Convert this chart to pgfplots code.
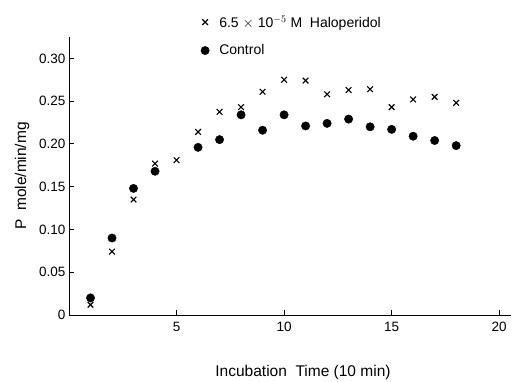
\documentclass[border=0pt]{standalone}
\usepackage{fontspec}
\setmainfont{Liberation Sans}
\usepackage{pgfplots}
\pgfplotsset{compat=1.18}
\begin{document}
\begin{tikzpicture}[x=1pt,y=1pt]
\useasboundingbox (-69,-67) rectangle (444,315);
\begin{axis}[
  at={(0,0)}, anchor=origin,
  scale only axis, width=442pt, height=278pt,
  xmin=0, xmax=20.55, ymin=0, ymax=0.325,
  axis lines*=left,
  axis line style={line width=0.9pt},
  tick align=inside,
  major tick length=5pt,
  tick style={line width=0.9pt, black},
  xtick={5,10,15,20}, xticklabels={5,10,15,20},
  ytick={0,0.05,0.10,0.15,0.20,0.25,0.30},
  yticklabels={0,0.05,0.10,0.15,0.20,0.25,0.30},
  ticklabel style={font=\fontsize{13.5}{15}\selectfont},
  xticklabel style={yshift=-4pt},
  xlabel={Incubation\ \ Time (10 min)},
  ylabel={P\ \ mole/min/mg},
  label style={font=\fontsize{15.5}{18}\selectfont},
  every axis x label/.append style={at={(234pt,-57pt)}, anchor=center},
  every axis y label/.append style={at={(-47pt,139pt)}, anchor=center},
  clip=false,
  legend style={draw=none, fill=none, at={(axis description cs:0.298,1.085)}, anchor=north west,
    font=\fontsize{14}{16}\selectfont, row sep=12pt, inner sep=0pt},
  legend cell align=left,
]
\addplot[only marks, mark=x, mark size=4pt, line width=1.1pt, black] coordinates {
(1,0.012) (2,0.074) (3,0.135) (4,0.177) (5,0.181) (6,0.214) (7,0.2375) (8,0.243)
(9,0.261) (10,0.275) (11,0.274) (12,0.258) (13,0.263) (14,0.264) (15,0.243)
(16,0.252) (17,0.255) (18,0.248)
};
\addlegendentry{\hspace{8pt}6.5 $\times$ 10$^{-5}$ M\ \ Haloperidol}
\addplot[only marks, mark=*, mark size=4.2pt, black] coordinates {
(1,0.020) (2,0.090) (3,0.148) (4,0.168) (6,0.196) (7,0.205) (8,0.234)
(9,0.216) (10,0.234) (11,0.221) (12,0.224) (13,0.229) (14,0.220) (15,0.217)
(16,0.209) (17,0.204) (18,0.198)
};
\addlegendentry{\hspace{8pt}Control}
\end{axis}
\end{tikzpicture}
\end{document}
